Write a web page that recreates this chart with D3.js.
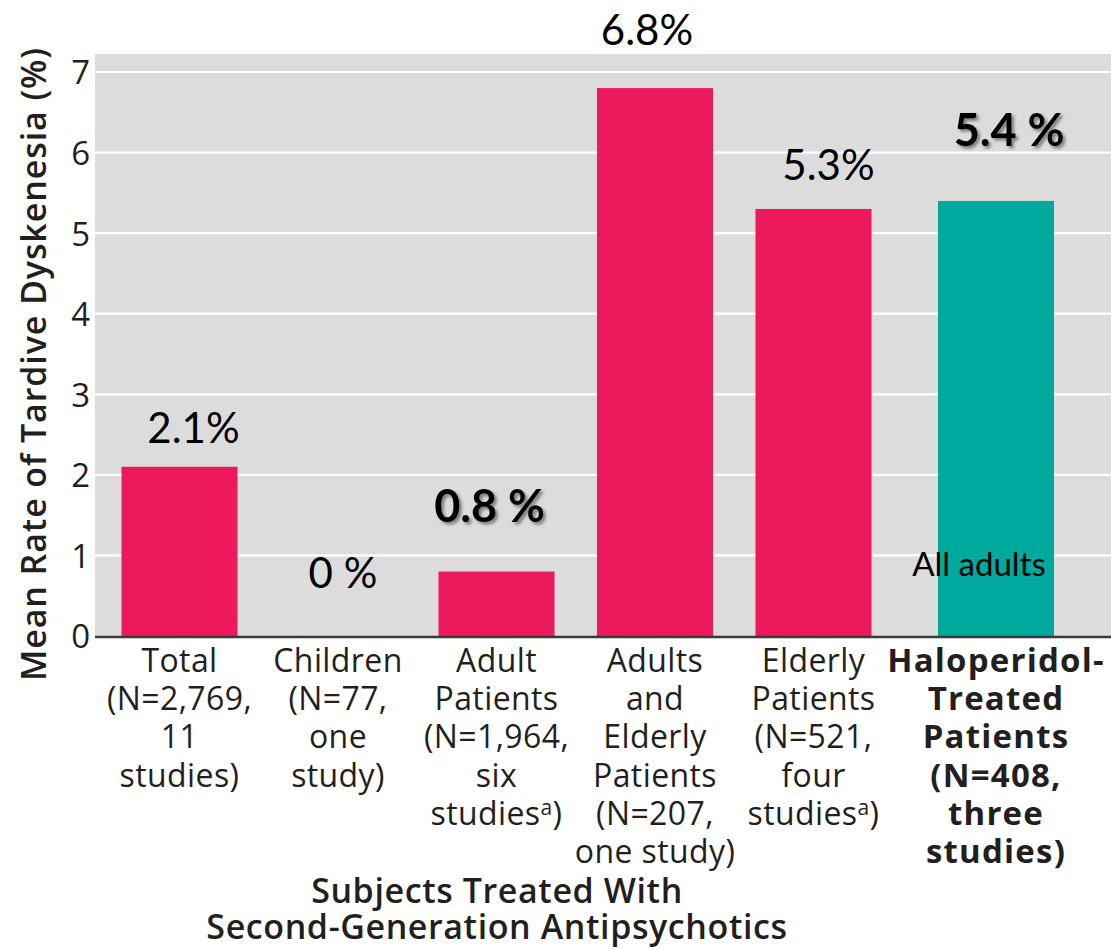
<!DOCTYPE html>
<html>
<head>
<meta charset="utf-8">
<script src="https://cdn.jsdelivr.net/npm/d3@7"></script>
<style>
  html, body { margin: 0; padding: 0; background: #ffffff; }
  svg { display: block; }
</style>
</head>
<body>
<svg id="chart" width="1111" height="950"></svg>
<script>
// Mean rate of tardive dyskinesia by patient group
const categories = ["Total", "Children", "Adult Patients", "Adults and Elderly Patients", "Elderly Patients", "Haloperidol-Treated Patients"];
const rates = [2.1, 0, 0.8, 6.8, 5.3, 5.4];
const valueLabels = ["2.1%", "0 %", "0.8 %", "6.8%", "5.3%", "5.4 %"];
const emphasized = [false, false, true, false, false, true];
const treatment = ["sga", "sga", "sga", "sga", "sga", "haloperidol"];
const categoryLines = [
  ["Total", "(N=2,769,", "11", "studies)"],
  ["Children", "(N=77,", "one", "study)"],
  ["Adult", "Patients", "(N=1,964,", "six", "studies^a)"],
  ["Adults", "and", "Elderly", "Patients", "(N=207,", "one study)"],
  ["Elderly", "Patients", "(N=521,", "four", "studies^a)"],
  ["Haloperidol-", "Treated", "Patients", "(N=408,", "three", "studies)"]
];
const yTicks = [0, 1, 2, 3, 4, 5, 6, 7];
const yTitle = "Mean Rate of Tardive Dyskenesia (%)";
const xTitle = ["Subjects Treated With", "Second-Generation Antipsychotics"];
const noteText = "All adults";

const svg = d3.select("#chart");
const plot = { left: 95, right: 1111, top: 54, bottom: 636 };
const comparisonGap = 24;   // haloperidol group sits a little apart
const textColor = "#231f20";
const labelFont = "'Open Sans', 'Noto Sans', sans-serif";
const valueFont = "Lato, 'Open Sans', sans-serif";

const y = d3.scaleLinear().domain([0, 7]).range([plot.bottom, 72]);
const xBand = d3.scaleBand()
  .domain(categories)
  .range([100.25, 1051.25])
  .paddingInner(0.268)
  .paddingOuter(0.134);
const xStart = c => xBand(c) + (treatment[categories.indexOf(c)] === "haloperidol" ? comparisonGap : 0);
const xCenter = c => xStart(c) + xBand.bandwidth() / 2;
const color = d3.scaleOrdinal().domain(["sga", "haloperidol"]).range(["#ed195d", "#00a99d"]);

// soft shadow for the emphasized labels
const defs = svg.append("defs");
const f = defs.append("filter").attr("id", "shadow").attr("x", "-10%").attr("y", "-20%").attr("width", "130%").attr("height", "150%");
f.append("feDropShadow").attr("dx", 2.5).attr("dy", 2.5).attr("stdDeviation", 1.6)
  .attr("flood-color", "#000").attr("flood-opacity", 0.45);

// plot background
svg.append("rect")
  .attr("x", plot.left).attr("y", plot.top)
  .attr("width", plot.right - plot.left).attr("height", plot.bottom - plot.top)
  .attr("fill", "#dcdcdd");

// gridlines
svg.append("g")
  .selectAll("line")
  .data(yTicks.filter(t => t > 0))
  .join("line")
  .attr("x1", plot.left).attr("x2", plot.right)
  .attr("y1", d => y(d)).attr("y2", d => y(d))
  .attr("stroke", "#ffffff").attr("stroke-width", 2.2);

// y axis labels
const yAxis = d3.axisLeft(y).tickValues(yTicks).tickSize(0).tickPadding(5).tickFormat(d3.format("d"));
const yG = svg.append("g").attr("transform", `translate(${plot.left},0)`).call(yAxis);
yG.select(".domain").remove();
yG.selectAll("text")
  .attr("font-family", labelFont)
  .attr("font-size", 33)
  .attr("fill", textColor)
  .attr("dy", "0.36em");

// bars
svg.append("g")
  .selectAll("rect")
  .data(categories)
  .join("rect")
  .attr("x", d => xStart(d))
  .attr("width", xBand.bandwidth())
  .attr("y", (d, i) => y(rates[i]))
  .attr("height", (d, i) => y(0) - y(rates[i]))
  .attr("fill", (d, i) => color(treatment[i]));

// baseline
svg.append("line")
  .attr("x1", plot.left).attr("x2", plot.right)
  .attr("y1", y(0) + 1).attr("y2", y(0) + 1)
  .attr("stroke", "#3a3a3a").attr("stroke-width", 2.5);

// value labels (nudges keep them clear of gridlines as laid out)
const labelNudge = [
  { dx: 14, dy: 24 }, { dx: 5, dy: 48 }, { dx: -7, dy: 50 },
  { dx: -8, dy: 43 }, { dx: 15, dy: 29 }, { dx: 13, dy: 55 }
];
svg.append("g")
  .selectAll("text")
  .data(categories)
  .join("text")
  .attr("x", (d, i) => xCenter(d) + labelNudge[i].dx)
  .attr("y", (d, i) => y(rates[i]) - labelNudge[i].dy)
  .attr("text-anchor", "middle")
  .attr("font-family", valueFont)
  .attr("font-size", (d, i) => emphasized[i] ? 45 : 42)
  .attr("font-weight", (d, i) => emphasized[i] ? 700 : 400)
  .attr("filter", (d, i) => emphasized[i] ? "url(#shadow)" : null)
  .attr("fill", "#000")
  .text((d, i) => valueLabels[i]);

// note inside the haloperidol bar
svg.append("text")
  .attr("x", xCenter(categories[5]) - 17)
  .attr("y", y(0.75))
  .attr("text-anchor", "middle")
  .attr("font-family", valueFont)
  .attr("font-size", 33)
  .attr("fill", "#000")
  .text(noteText);

// category labels
const catG = svg.append("g");
categories.forEach((c, i) => {
  const bold = treatment[i] === "haloperidol";
  const t = catG.append("text")
    .attr("x", xCenter(c))
    .attr("y", 672)
    .attr("text-anchor", "middle")
    .attr("font-family", labelFont)
    .attr("font-size", bold ? 33 : 32)
    .attr("font-weight", bold ? 700 : 400)
    .attr("letter-spacing", bold ? 1.2 : 0.4)
    .attr("fill", textColor);
  categoryLines[i].forEach((line, k) => {
    const parts = line.split("^");
    const ts = t.append("tspan").attr("x", xCenter(c)).attr("dy", k === 0 ? 0 : 38.2);
    if (parts.length === 1) {
      ts.text(line);
    } else {
      ts.text(parts[0]);
      const sup = parts[1];
      t.append("tspan").attr("dy", -10).attr("font-size", 21).text(sup.slice(0, 1));
      t.append("tspan").attr("dy", 10).text(sup.slice(1));
    }
  });
});

// x axis title
svg.append("text")
  .attr("x", 497).attr("y", 903)
  .attr("text-anchor", "middle")
  .attr("font-family", labelFont)
  .attr("font-size", 34)
  .attr("font-weight", 600)
  .attr("letter-spacing", 0.6)
  .attr("fill", textColor)
  .selectAll("tspan")
  .data(xTitle)
  .join("tspan")
  .attr("x", 497)
  .attr("dy", (d, i) => i === 0 ? 0 : 36)
  .text(d => d);

// y axis title
svg.append("text")
  .attr("transform", `translate(46, 364) rotate(-90)`)
  .attr("text-anchor", "middle")
  .attr("font-family", labelFont)
  .attr("font-size", 34)
  .attr("font-weight", 600)
  .attr("letter-spacing", 0.9)
  .attr("fill", textColor)
  .text(yTitle);
</script>
</body>
</html>
